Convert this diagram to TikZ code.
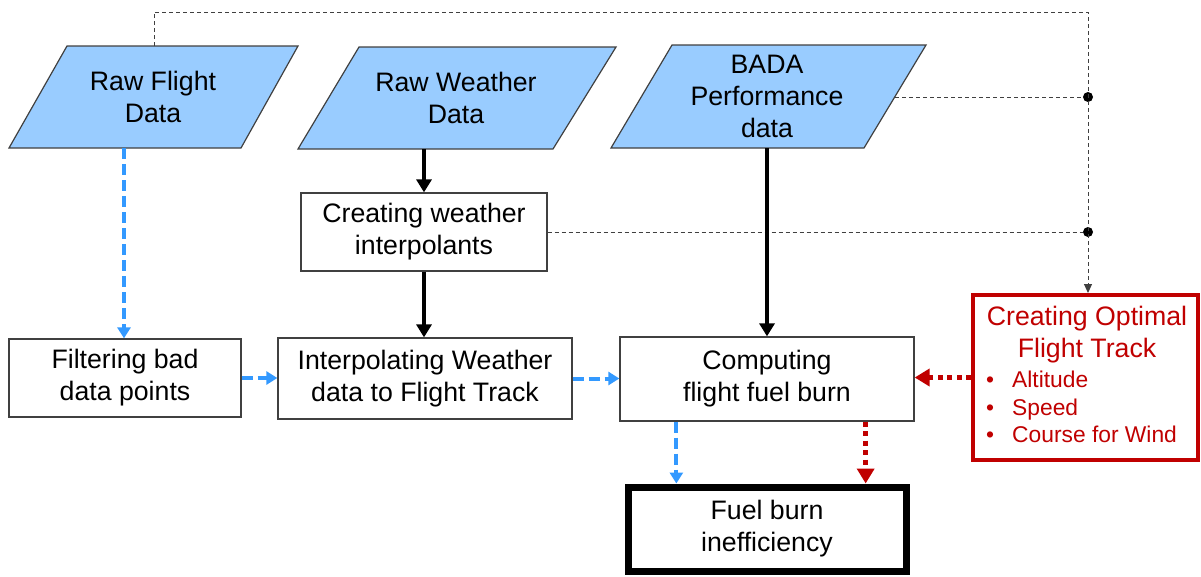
\documentclass[tikz,border=0pt]{standalone}
\usepackage{fontspec}
\setmainfont{Liberation Sans}
\usetikzlibrary{arrows.meta}
\definecolor{paraFill}{RGB}{153,204,255}
\definecolor{blueArr}{RGB}{51,153,255}
\definecolor{redC}{RGB}{192,0,0}
\definecolor{lineGray}{RGB}{64,64,64}
\tikzset{
  bigtxt/.style={font=\fontsize{26.7}{32}\selectfont, align=center, inner sep=0pt},
  smalltxt/.style={font=\fontsize{22.8}{27}\selectfont, text=redC, inner sep=0pt},
  para/.style={fill=paraFill, draw=lineGray, line width=1.2pt},
  box/.style={draw=lineGray, line width=1.3pt, fill=white, bigtxt},
  fuelbox/.style={draw=black, line width=7pt, fill=white, bigtxt},
  optbox/.style={draw=redC, line width=4pt, fill=white, inner sep=0pt},
  bluearrow/.style={draw=blueArr, line width=4pt, dash pattern=on 11pt off 5pt, -{Triangle[length=11pt,width=13pt]}},
  blackarrow/.style={draw=black, line width=3.5pt, -{Triangle[length=13pt,width=15pt]}},
  redarrow/.style={draw=redC, line width=5.5pt, dash pattern=on 5pt off 4.5pt, -{Triangle[length=15pt,width=17pt]}},
  thindash/.style={draw=lineGray, line width=1pt, dash pattern=on 4pt off 3pt},
  junction/.style={circle, fill=black, minimum size=10pt, inner sep=0pt},
}
\begin{document}
\begin{tikzpicture}[x=1pt,y=-1pt]
\useasboundingbox (0,0) rectangle (1201,576);

% parallelograms (input data)
\path[para] (67,46) -- (298,46) -- (241,148) -- (9,148) -- cycle;
\path[para] (359,47) -- (616,47) -- (553,149) -- (298,149) -- cycle;
\path[para] (672,45) -- (926,45) -- (864,148) -- (611,148) -- cycle;
\node[bigtxt] (rfd) at (153,97) {Raw Flight\\Data};
\node[bigtxt] (rwd) at (456,98) {Raw Weather\\Data};
\node[bigtxt] (bada) at (767,96) {BADA\\Performance\\data};
\coordinate (rfd-n) at (154,46);
\coordinate (rfd-s) at (124,148);
\coordinate (rwd-s) at (424,149);
\coordinate (bada-s) at (767,148);
\coordinate (bada-e) at (895,97);

% process boxes
\node[box, minimum width=232pt, minimum height=78pt] (filt) at (125,378) {Filtering bad\\data points};
\node[box, minimum width=246pt, minimum height=78pt] (cw) at (424,232) {Creating weather\\interpolants};
\node[box, minimum width=294pt, minimum height=81pt] (interp) at (425,378.5) {Interpolating Weather\\data to Flight Track};
\node[box, minimum width=294pt, minimum height=84pt] (comp) at (767,379) {Computing\\flight fuel burn};
\node[fuelbox, minimum width=278pt, minimum height=84pt] (fuel) at (767,529) {Fuel burn\\inefficiency};

% optimal track box
\node[optbox, minimum width=225pt, minimum height=165pt] (opt) at (1085.5,377.5) {};
\node[bigtxt, text=redC, anchor=base] (optt1) at (1087,325) {Creating Optimal};
\node[bigtxt, text=redC, anchor=base] (optt2) at (1087,357) {Flight Track};
\node[smalltxt, anchor=base] (b1) at (990,387) {\textbullet};
\node[smalltxt, anchor=base] (b2) at (990,415) {\textbullet};
\node[smalltxt, anchor=base] (b3) at (990,442) {\textbullet};
\node[smalltxt, anchor=base west] (i1) at (1012,387) {Altitude};
\node[smalltxt, anchor=base west] (i2) at (1012,415) {Speed};
\node[smalltxt, anchor=base west] (i3) at (1012,442) {Course for Wind};

% thin dashed feedback lines
\coordinate (tr) at (1088,12);
\node[junction] (j1) at (1088,97) {};
\node[junction] (j2) at (1088,232) {};
\draw[thindash, -{Triangle[length=9pt,width=8pt]}] (rfd-n) |- (tr) -- (tr |- opt.north);
\draw[thindash] (bada-e) -- (j1);
\draw[thindash] (cw.east) -- (j2);

% blue dashed connectors
\draw[bluearrow] (rfd-s) -- (rfd-s |- filt.north);
\draw[bluearrow] (filt.east) -- (filt.east -| interp.west);
\draw[bluearrow] (interp.east) -- (interp.east -| comp.west);
\draw[bluearrow] ([xshift=57pt]comp.south west) -- ([xshift=57pt]comp.south west |- fuel.north);

% black connectors
\draw[blackarrow] (rwd-s) -- (rwd-s |- cw.north);
\draw[blackarrow] (cw.south) -- (cw.south |- interp.north);
\draw[blackarrow] (bada-s) -- (comp.north);

% red dotted connectors
\draw[redarrow] (opt.west) -- (opt.west -| comp.east);
\draw[redarrow] ([xshift=-49pt]comp.south east) -- ([xshift=-49pt]comp.south east |- fuel.north);
\end{tikzpicture}
\end{document}
